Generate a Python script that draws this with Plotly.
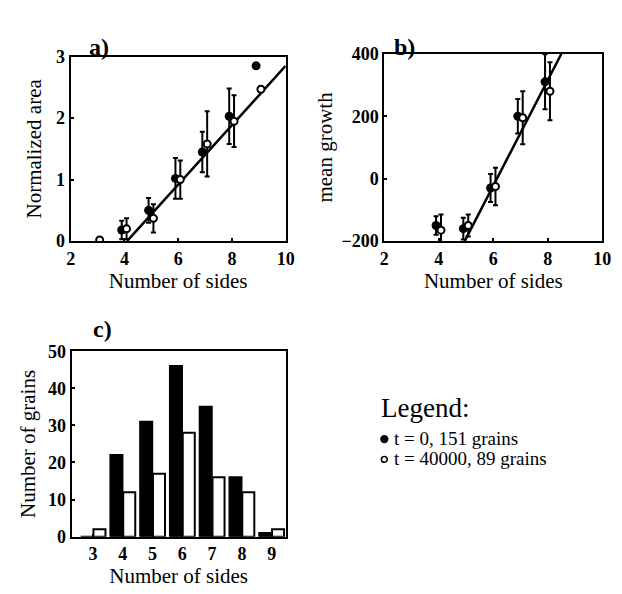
import plotly.graph_objects as go

# ---------------- data ----------------
# Panel a: normalized area vs number of sides
a_sides_t0 = [4, 5, 6, 7, 8, 9]
a_area_t0 = [0.18, 0.50, 1.02, 1.45, 2.03, 2.85]
a_err_t0 = [0.15, 0.20, 0.33, 0.33, 0.45, 0.0]
a_sides_t1 = [3, 4, 5, 6, 7, 8, 9]
a_area_t1 = [0.02, 0.20, 0.37, 1.00, 1.58, 1.95, 2.47]
a_err_t1 = [0.0, 0.17, 0.23, 0.31, 0.53, 0.42, 0.0]
a_fit_x = [4.1, 10.0]
a_fit_y = [0.0, 2.85]

# Panel b: mean growth vs number of sides
b_sides_t0 = [4, 5, 6, 7, 8]
b_growth_t0 = [-150, -160, -30, 200, 310]
b_err_t0 = [30, 35, 45, 55, 88]
b_sides_t1 = [4, 5, 6, 7, 8]
b_growth_t1 = [-165, -150, -25, 195, 280]
b_err_t1 = [50, 35, 60, 85, 93]
b_fit_x = [4.95, 8.5]
b_fit_y = [-200, 400]

# Panel c: histogram of number of sides
c_sides = [3, 4, 5, 6, 7, 8, 9]
c_count_t0 = [0, 22, 31, 46, 35, 16, 1]
c_count_t1 = [2, 12, 17, 28, 16, 12, 2]

legend_title = "Legend:"
legend_labels = ["t = 0, 151 grains", "t = 40000, 89 grains"]

# ---------------- figure ----------------
# the page body has an 8px margin, so the figure is drawn 8px in from the
# window corner; page coordinates below are converted to figure coordinates.
PAGE_W, PAGE_H = 622, 594
M = 8
W, H = PAGE_W - M, PAGE_H - M
SERIF = "Liberation Serif"

def fx(px):
    return (px - M) / W

def fy(py):
    return 1 - (py - M) / H

def dom_x(p0, p1):
    return [fx(p0), fx(p1)]

def dom_y(top, bottom):
    return [fy(bottom), fy(top)]

fig = go.Figure()

OFF0, OFF1 = -0.1, 0.08
filled = dict(color="black", size=9)
opened = dict(color="white", size=7, line=dict(color="black", width=2))
errstyle = dict(type="data", color="black", thickness=2, width=2.5)

# panel a
fig.add_trace(go.Scatter(x=a_fit_x, y=a_fit_y, mode="lines",
                         line=dict(color="black", width=2.5),
                         xaxis="x", yaxis="y", showlegend=False))
fig.add_trace(go.Scatter(x=[s + OFF0 for s in a_sides_t0], y=a_area_t0, mode="markers",
                         marker=filled, error_y=dict(array=a_err_t0, **errstyle),
                         xaxis="x", yaxis="y", showlegend=False))
fig.add_trace(go.Scatter(x=[s + OFF1 for s in a_sides_t1], y=a_area_t1, mode="markers",
                         marker=opened, error_y=dict(array=a_err_t1, **errstyle),
                         xaxis="x", yaxis="y", showlegend=False))

# panel b
fig.add_trace(go.Scatter(x=b_fit_x, y=b_fit_y, mode="lines",
                         line=dict(color="black", width=2.5),
                         xaxis="x2", yaxis="y2", showlegend=False))
fig.add_trace(go.Scatter(x=[s + OFF0 for s in b_sides_t0], y=b_growth_t0, mode="markers",
                         marker=filled, error_y=dict(array=b_err_t0, **errstyle),
                         xaxis="x2", yaxis="y2", showlegend=False))
fig.add_trace(go.Scatter(x=[s + OFF1 for s in b_sides_t1], y=b_growth_t1, mode="markers",
                         marker=opened, error_y=dict(array=b_err_t1, **errstyle),
                         xaxis="x2", yaxis="y2", showlegend=False))

# panel c
fig.add_trace(go.Bar(x=c_sides, y=c_count_t0, marker=dict(color="black", line=dict(color="black", width=2)),
                     xaxis="x3", yaxis="y3", showlegend=False))
fig.add_trace(go.Bar(x=c_sides, y=c_count_t1, marker=dict(color="white", line=dict(color="black", width=2)),
                     xaxis="x3", yaxis="y3", showlegend=False))

tickfont = dict(family=SERIF, size=18, color="black", weight="bold")
titlefont = dict(family=SERIF, size=21, color="black")
axis_common = dict(showline=True, linecolor="black", linewidth=2, mirror=True,
                   ticks="inside", ticklen=3, tickwidth=1.5, tickcolor="black",
                   showgrid=False, zeroline=False, tickfont=tickfont)

fig.update_layout(
    width=W, height=H,
    margin=dict(l=0, r=0, t=0, b=0),
    paper_bgcolor="white", plot_bgcolor="white",
    barmode="group", bargap=0.14, bargroupgap=0.06,
    xaxis=dict(domain=dom_x(67, 287), anchor="y", range=[2, 10], tickvals=[2, 4, 6, 8, 10],
               title=dict(text="Number of sides", font=titlefont, standoff=4), **axis_common),
    yaxis=dict(domain=dom_y(48, 239), anchor="x", range=[0, 3], tickvals=[0, 1, 2, 3],
               title=dict(text="Normalized area", font=titlefont, standoff=9), **axis_common),
    xaxis2=dict(domain=dom_x(388, 611), anchor="y2", range=[2, 10], tickvals=[2, 4, 6, 8, 10],
                title=dict(text="Number of sides", font=titlefont, standoff=4), **axis_common),
    yaxis2=dict(domain=dom_y(45, 239), anchor="x2", range=[-200, 400], tickvals=[-200, 0, 200, 400],
                title=dict(text="mean growth", font=titlefont, standoff=3), **axis_common),
    xaxis3=dict(domain=dom_x(68, 287), anchor="y3", range=[2.28, 9.47], tickvals=c_sides,
                title=dict(text="Number of sides", font=titlefont, standoff=3), **axis_common),
    yaxis3=dict(domain=dom_y(353, 545), anchor="x3", range=[0, 50], tickvals=[0, 10, 20, 30, 40, 50],
                title=dict(text="Number of grains", font=titlefont, standoff=7), **axis_common),
)

# panel labels
for txt, px, py in [("a)", 84, 23), ("b)", 409, 22), ("c)", 88, 330)]:
    fig.add_annotation(text="<b>%s</b>" % txt, x=fx(px), y=fy(py), xref="paper", yref="paper",
                       showarrow=False, font=dict(family=SERIF, size=24, color="black"))

# legend block
fig.add_annotation(text=legend_title, x=fx(383), y=fy(412), xref="paper", yref="paper",
                   xanchor="left", yanchor="middle", showarrow=False,
                   font=dict(family=SERIF, size=27, color="black"))
for i, lab in enumerate(legend_labels):
    py = 443 + i * 21
    fig.add_annotation(text=lab, x=fx(396), y=fy(py), xref="paper", yref="paper",
                       xanchor="left", yanchor="middle", showarrow=False,
                       font=dict(family=SERIF, size=19, color="black"))
    r = 3.5 if i == 0 else 3
    fig.add_shape(type="circle", xref="paper", yref="paper",
                  x0=fx(388 - r), x1=fx(388 + r), y0=fy(py + 1 + r), y1=fy(py + 1 - r),
                  fillcolor="black" if i == 0 else "white", line=dict(color="black", width=1.5))

fig.write_html("out.html")
